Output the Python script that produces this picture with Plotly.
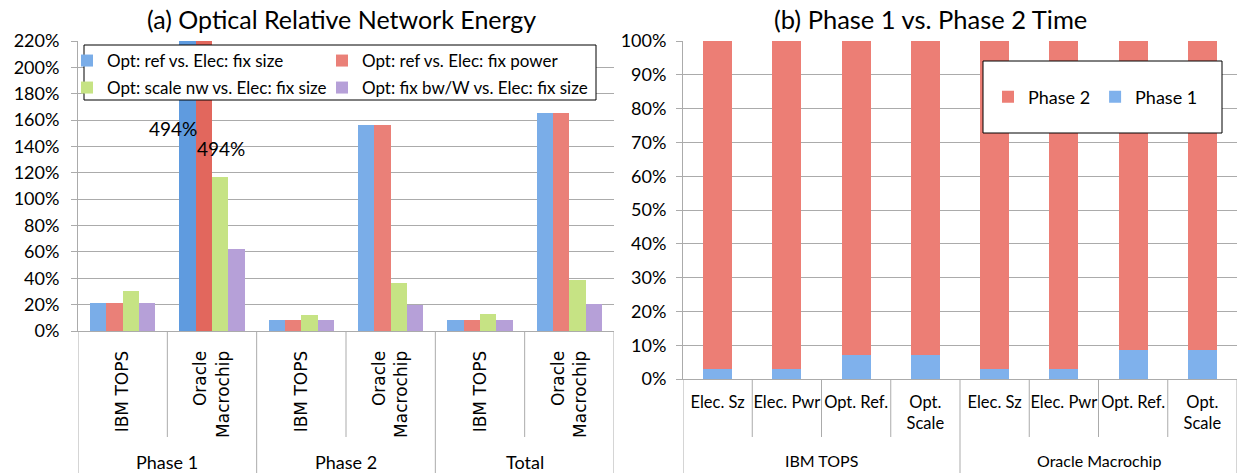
import plotly.graph_objects as go

# ---------------- data: (a) Optical Relative Network Energy ----------------
groups_a = ["Phase 1", "Phase 2", "Total"]
systems_a = ["IBM TOPS", "Oracle<br>Macrochip"]
cats_a = ["IBM TOPS", "Oracle<br>Macrochip", "IBM TOPS", "Oracle<br>Macrochip", "IBM TOPS", "Oracle<br>Macrochip"]
names_a = ["Opt: ref vs. Elec: fix size", "Opt: ref vs. Elec: fix power",
           "Opt: scale nw vs. Elec: fix size", "Opt: fix bw/W vs. Elec: fix size"]
opt_ref_fix_size = [0.21, 4.94, 0.085, 1.56, 0.085, 1.655]
opt_ref_fix_power = [0.21, 4.94, 0.085, 1.56, 0.085, 1.655]
opt_scale_fix_size = [0.307, 1.167, 0.118, 0.366, 0.13, 0.388]
opt_bww_fix_size = [0.21, 0.624, 0.085, 0.20, 0.085, 0.206]
ticks_a = [0, 0.2, 0.4, 0.6, 0.8, 1.0, 1.2, 1.4, 1.6, 1.8, 2.0, 2.2]

# ---------------- data: (b) Phase 1 vs. Phase 2 Time ----------------
groups_b = ["IBM TOPS", "Oracle Macrochip"]
cats_b = ["Elec. Sz", "Elec. Pwr", "Opt. Ref.", "Opt.<br>Scale",
          "Elec. Sz", "Elec. Pwr", "Opt. Ref.", "Opt.<br>Scale"]
phase1 = [0.03, 0.03, 0.071, 0.07, 0.03, 0.03, 0.086, 0.086]
phase2 = [0.97, 0.97, 0.929, 0.93, 0.97, 0.97, 0.914, 0.914]

# ---------------- styling ----------------
W, H = 1238, 473
MT = 41
PH = H - MT
def px_x(p): return p / W
def px_y(p): return (H - p) / PH

def hx(c): return tuple(int(c[i:i + 2], 16) for i in (1, 3, 5))
def mix(light, dark, t):
    a, b = hx(light), hx(dark)
    return "rgb(%d,%d,%d)" % tuple(round(b[i] + (a[i] - b[i]) * t) for i in range(3))

YMAX_A = 2.2
pal_a = [("#aacdf7", "#4a8dd8"), ("#f9aca8", "#db5347"),
         ("#e4f7ac", "#a8cf5c"), ("#d7c6ef", "#9679c2")]
series_a = [opt_ref_fix_size, opt_ref_fix_power, opt_scale_fix_size, opt_bww_fix_size]
# legend slot per series: (column x px, row y px)
legend_ids = ["legend", "legend4", "legend3", "legend5"]
legend_pos = [(67, 61), (322, 61), (67, 88), (322, 88)]

GRID = "#ababab"
FONT = "Lato"

fig = go.Figure()
bw = 0.183
xs_a = list(range(len(cats_a)))
for k, (vals, nm, (lc, dc)) in enumerate(zip(series_a, names_a, pal_a)):
    cols = [mix(lc, dc, (min(v, YMAX_A) / v) / 2) for v in vals]
    fig.add_trace(go.Bar(
        x=xs_a, y=vals, name=nm, xaxis="x", yaxis="y",
        width=bw, offset=-2 * bw + k * bw,
        marker=dict(color=cols, line=dict(width=0)),
        legend=legend_ids[k], showlegend=True))

xs_b = list(range(len(cats_b)))
bwb = 0.42
fig.add_trace(go.Bar(x=xs_b, y=phase1, name="Phase 1", xaxis="x2", yaxis="y2",
                     width=bwb, offset=-bwb / 2, marker=dict(color="#7fb1ec", line=dict(width=0)),
                     legend="legend2"))
fig.add_trace(go.Bar(x=xs_b, y=phase2, base=phase1, name="Phase 2", xaxis="x2", yaxis="y2",
                     width=bwb, offset=-bwb / 2, marker=dict(color="#ec7e75", line=dict(width=0)),
                     legend="legend2"))

shapes = []
# legend boxes
shapes.append(dict(type="rect", xref="paper", yref="paper", x0=px_x(84), x1=px_x(596),
                   y0=px_y(100), y1=px_y(45), line=dict(color="black", width=1),
                   fillcolor="white", layer="above"))
shapes.append(dict(type="rect", xref="paper", yref="paper", x0=px_x(983), x1=px_x(1222),
                   y0=px_y(133), y1=px_y(61), line=dict(color="black", width=1),
                   fillcolor="white", layer="above"))
# category dividers (a)
for i in range(len(cats_a) + 1):
    xv = i - 0.5
    outer = (i % len(systems_a) == 0)
    shapes.append(dict(type="line", xref="x", yref="paper", x0=xv, x1=xv,
                       y0=px_y(331), y1=px_y(H if outer else 437),
                       line=dict(color=GRID, width=1)))
# category dividers (b)
nb = len(cats_b) // len(groups_b)
for i in range(len(cats_b) + 1):
    xv = i - 0.5
    outer = (i % nb == 0)
    shapes.append(dict(type="line", xref="x2", yref="paper", x0=xv, x1=xv,
                       y0=px_y(379), y1=px_y(H if outer else 437),
                       line=dict(color=GRID, width=1)))

annotations = []
annotations.append(dict(text="(a) Optical Relative Network Energy", xref="paper", yref="paper",
                        x=px_x(341), y=px_y(19), xanchor="center", yanchor="middle", showarrow=False,
                        font=dict(family=FONT, size=25, color="black")))
annotations.append(dict(text="(b) Phase 1 vs. Phase 2 Time", xref="paper", yref="paper",
                        x=px_x(930), y=px_y(19), xanchor="center", yanchor="middle", showarrow=False,
                        font=dict(family=FONT, size=25.5, color="black")))
for g, name in enumerate(groups_a):
    annotations.append(dict(text=name, xref="x", yref="paper", x=g * 2 + 0.5, y=px_y(462),
                            xanchor="center", yanchor="middle", showarrow=False,
                            font=dict(family=FONT, size=18, color="black")))
for g, name in enumerate(groups_b):
    annotations.append(dict(text=name, xref="x2", yref="paper", x=g * nb + (nb - 1) / 2, y=px_y(460),
                            xanchor="center", yanchor="middle", showarrow=False,
                            font=dict(family=FONT, size=16, color="black")))
# clipped value labels
annotations.append(dict(text=f"{opt_ref_fix_size[1]:.0%}", xref="x", yref="y",
                        x=1 - 1.5 * bw, y=1.536, xshift=-14, xanchor="center", yanchor="middle",
                        showarrow=False, font=dict(family=FONT, size=19, color="black")))
annotations.append(dict(text=f"{opt_ref_fix_power[1]:.0%}", xref="x", yref="y",
                        x=1 - 0.5 * bw, y=1.384, xshift=17, xanchor="center", yanchor="middle",
                        showarrow=False, font=dict(family=FONT, size=19, color="black")))

legend_layout = {}
for lid, (lx, ly) in zip(legend_ids, legend_pos):
    legend_layout[lid] = dict(orientation="h", x=px_x(lx), y=px_y(ly), xanchor="left", yanchor="middle",
                              bgcolor="rgba(0,0,0,0)", borderwidth=0,
                              font=dict(family=FONT, size=17, color="black"), itemclick=False)

fig.update_layout(
    width=W, height=H, margin=dict(l=0, r=0, t=MT, b=0, autoexpand=False),
    paper_bgcolor="white", plot_bgcolor="white",
    font=dict(family=FONT, color="black"),
    xaxis=dict(domain=[px_x(78), px_x(614)], anchor="y", range=[-0.5, 5.5], tickvals=xs_a, ticktext=cats_a,
               tickangle=-90, tickfont=dict(family="DejaVu Sans", size=17, color="black"),
               showgrid=False, zeroline=False, showline=True, linecolor=GRID,
               ticks="", ticklabelstandoff=12, automargin=False),
    yaxis=dict(domain=[px_y(331), 1], anchor="x", range=[0, YMAX_A], tickvals=ticks_a, tickformat=".0%",
               showgrid=True, gridcolor=GRID, zeroline=False, showline=True, linecolor=GRID,
               ticks="outside", ticklen=6, tickcolor=GRID, ticklabelstandoff=8,
               tickfont=dict(family=FONT, size=18, color="black"), automargin=False),
    xaxis2=dict(domain=[px_x(683), px_x(1237)], anchor="y2", range=[-0.5, 7.5], tickvals=xs_b, ticktext=cats_b,
                tickangle=0, tickfont=dict(family=FONT, size=16.5, color="black"),
                showgrid=False, zeroline=False, showline=True, linecolor=GRID,
                ticks="", ticklabelstandoff=8, automargin=False),
    yaxis2=dict(domain=[px_y(379), 1], anchor="x2", range=[0, 1], dtick=0.1, tickformat=".0%",
                showgrid=True, gridcolor=GRID, zeroline=False, showline=True, linecolor=GRID,
                ticks="outside", ticklen=6, tickcolor=GRID, ticklabelstandoff=6,
                tickfont=dict(family=FONT, size=18, color="black"), automargin=False),
    legend2=dict(orientation="h", x=px_x(988), y=px_y(97), xanchor="left", yanchor="middle",
                 traceorder="reversed", bgcolor="rgba(0,0,0,0)", borderwidth=0,
                 font=dict(family=FONT, size=18, color="black"), itemclick=False),
    shapes=shapes, annotations=annotations, bargap=0, showlegend=True,
    **legend_layout,
)
fig.write_html("out.html", config={"displayModeBar": False},
               post_script="document.body.style.margin='0';document.body.style.overflow='hidden';")
